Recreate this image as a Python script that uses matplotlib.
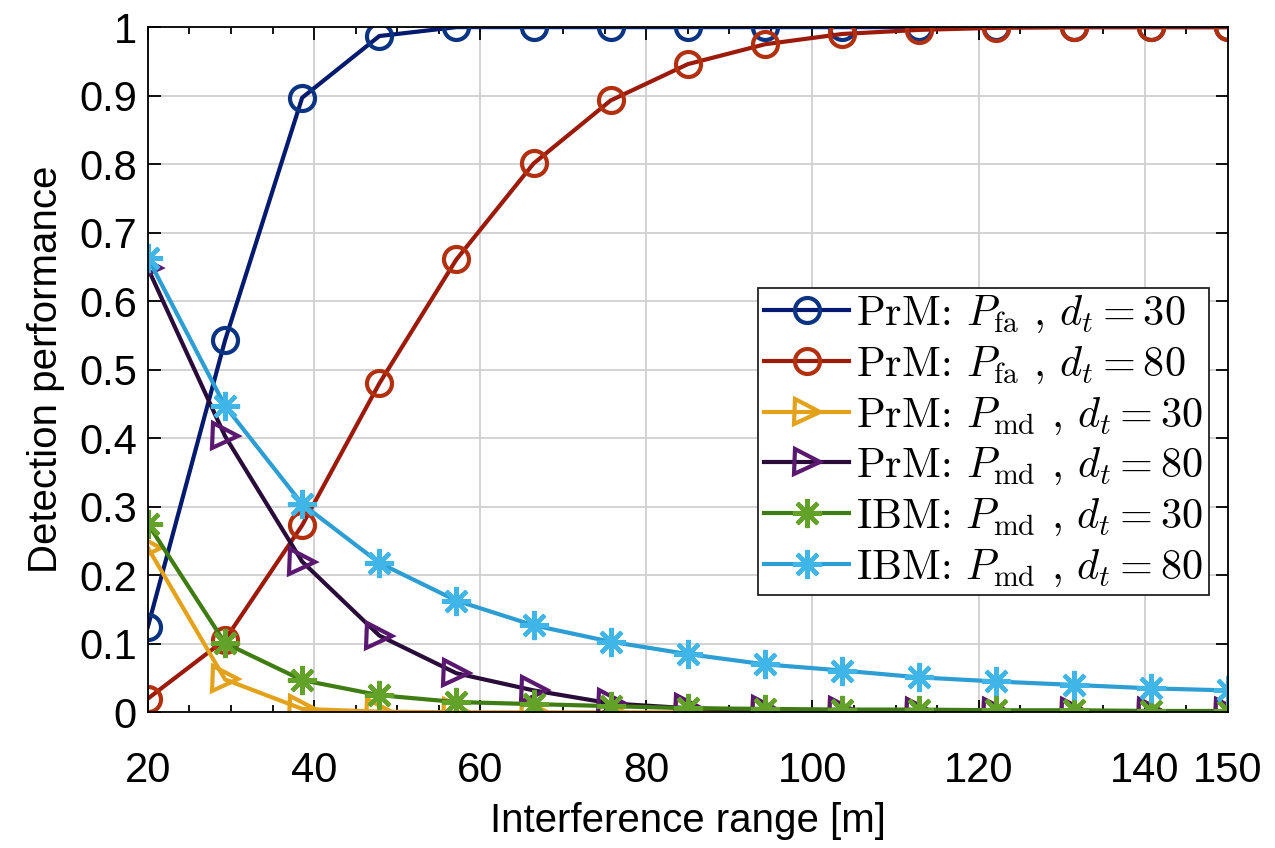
import numpy as np
import matplotlib
matplotlib.use("Agg")
import matplotlib.pyplot as plt
from matplotlib.ticker import MultipleLocator

plt.rcParams['font.family'] = ['Liberation Sans', 'DejaVu Sans']
plt.rcParams['mathtext.fontset'] = 'cm'

# interference range [m], 15 points from 20 to 150
ranges = [20, 29.29, 38.57, 47.86, 57.14, 66.43, 75.71, 85.0,
          94.29, 103.57, 112.86, 122.14, 131.43, 140.71, 150]

prm_pfa_30 = [0.125, 0.543, 0.897, 0.987, 1.0, 1.0, 1.0, 1.0,
              1.0, 1.0, 1.0, 1.0, 1.0, 1.0, 1.0]
prm_pfa_80 = [0.02, 0.106, 0.273, 0.48, 0.661, 0.801, 0.893, 0.946,
              0.975, 0.99, 0.996, 0.999, 1.0, 1.0, 1.0]
prm_pmd_30 = [0.24, 0.048, 0.005, 0.001, 0.0, 0.0, 0.0, 0.0,
              0.0, 0.0, 0.0, 0.0, 0.0, 0.0, 0.0]
prm_pmd_80 = [0.648, 0.403, 0.22, 0.112, 0.057, 0.032, 0.013, 0.006,
              0.003, 0.002, 0.001, 0.001, 0.0, 0.0, 0.0]
ibm_pmd_30 = [0.275, 0.101, 0.047, 0.025, 0.015, 0.012, 0.009, 0.006,
              0.005, 0.004, 0.004, 0.003, 0.003, 0.002, 0.002]
ibm_pmd_80 = [0.663, 0.447, 0.304, 0.218, 0.163, 0.127, 0.103, 0.085,
              0.07, 0.061, 0.051, 0.045, 0.04, 0.035, 0.032]

x_ticks = [20, 40, 60, 80, 100, 120, 140, 150]
y_ticks = [0, 0.1, 0.2, 0.3, 0.4, 0.5, 0.6, 0.7, 0.8, 0.9, 1]
y_ticklabels = ['0', '0.1', '0.2', '0.3', '0.4', '0.5', '0.6', '0.7', '0.8', '0.9', '1']

labels = [r"PrM: $P_{\mathrm{fa}}$ , $d_t = 30$",
          r"PrM: $P_{\mathrm{fa}}$ , $d_t = 80$",
          r"PrM: $P_{\mathrm{md}}$ , $d_t = 30$",
          r"PrM: $P_{\mathrm{md}}$ , $d_t = 80$",
          r"IBM: $P_{\mathrm{md}}$ , $d_t = 30$",
          r"IBM: $P_{\mathrm{md}}$ , $d_t = 80$"]

asterisk = (8, 2, 0)
# (data, line colour, marker colour, marker, marker size)
series = [
    (prm_pfa_30, '#031a6e', '#0a3482', 'o', 18),
    (prm_pfa_80, '#9c1a0a', '#b3300f', 'o', 18),
    (prm_pmd_30, '#e3a21a', '#e3a21a', '>', 18),
    (prm_pmd_80, '#2a0c3a', '#5a1870', '>', 18),
    (ibm_pmd_30, '#3f7c12', '#62a228', asterisk, 21),
    (ibm_pmd_80, '#2c9ed3', '#40b6e8', asterisk, 21),
]

fig = plt.figure(figsize=(12.75, 8.48), dpi=100)
ax = fig.add_axes([0.116, 0.160, 0.847, 0.808])

for (vals, lc, mc, mk, ms), lab in zip(series, labels):
    ax.plot(ranges, vals, color=lc, lw=3.0, marker=mk, ms=ms,
            mec=mc, mfc='none', mew=3.0, label=lab)

ax.set_xlim(20, 150)
ax.set_ylim(0, 1)
ax.set_xticks(x_ticks)
ax.xaxis.set_minor_locator(MultipleLocator(5))
ax.set_yticks(y_ticks)
ax.set_yticklabels(y_ticklabels)
ax.tick_params(which='both', direction='in', top=True, right=True,
               labelsize=30, width=1.3)
ax.tick_params(axis='x', pad=28)
ax.tick_params(axis='y', pad=8)
ax.tick_params(which='major', length=9)
ax.tick_params(which='minor', length=5)
ax.grid(True, which='major', color='#d0d0d0', lw=1.3)
ax.set_axisbelow(True)
for s in ax.spines.values():
    s.set_linewidth(1.3)

ax.set_xlabel('Interference range [m]', fontsize=29, labelpad=8)
ax.set_ylabel('Detection performance', fontsize=29, labelpad=10)

leg = ax.legend(loc='upper right', bbox_to_anchor=(0.983, 0.620),
                prop={'family': ['cmr10', 'DejaVu Serif'], 'size': 30.5},
                handlelength=2.0, handletextpad=0.17, borderpad=0.15,
                labelspacing=0.22, borderaxespad=0, fancybox=False,
                framealpha=1, edgecolor='#222222')
leg.get_frame().set_linewidth(1.3)

fig.savefig('out.png', dpi=100)
